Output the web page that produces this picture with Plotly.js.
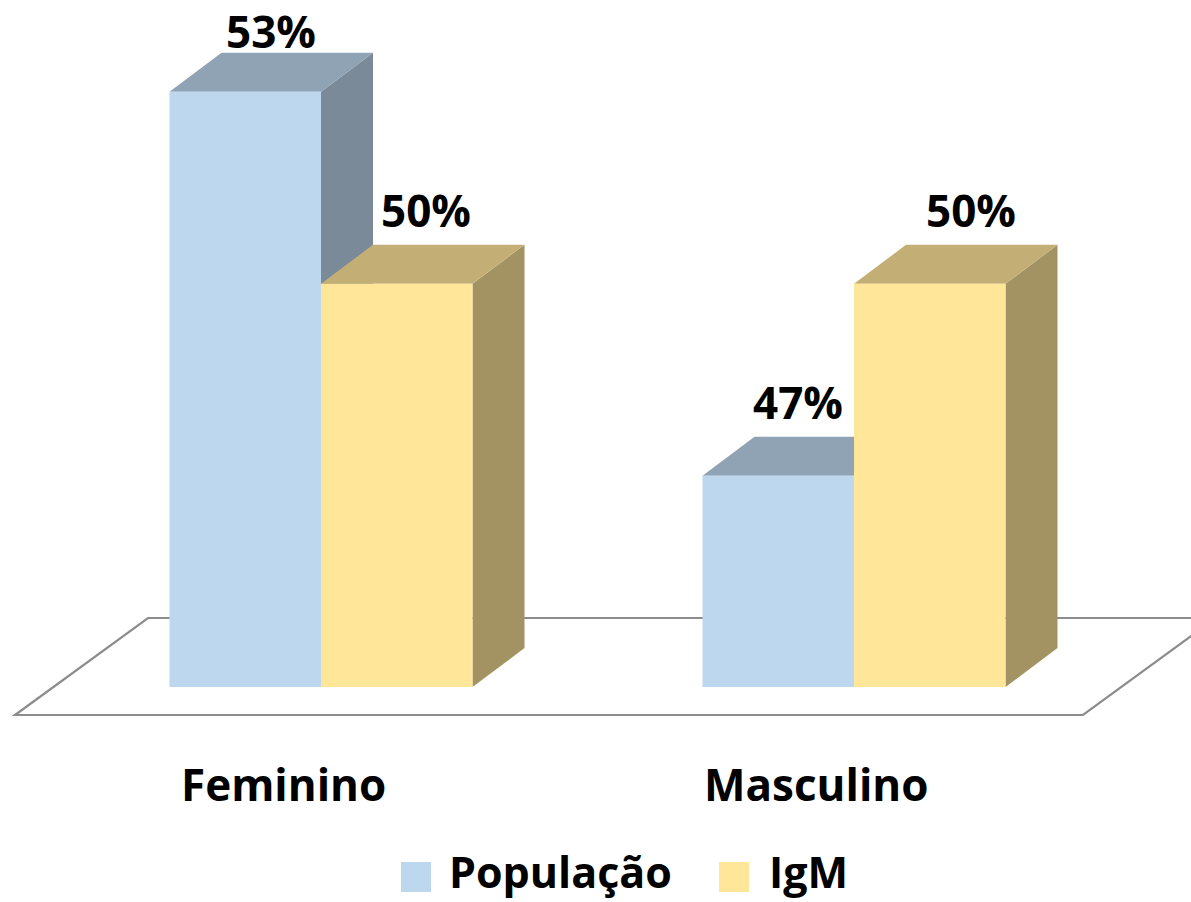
<!DOCTYPE html>
<html><head><meta charset="utf-8">
<script src="https://cdn.plot.ly/plotly-3.0.1.min.js"></script>
<style>html,body{margin:0;padding:0;background:#fff}</style>
</head><body><div id="chart" style="width:1191px;height:902px"></div>
<script>
// ---- data ----
const categories = ['Feminino', 'Masculino'];
const seriesNames = ['População', 'IgM'];
const populacao = [53, 47];
const igm = [50, 50];

// ---- styling / geometry ----
const W = 1191, H = 902;
const CAT_PX = 533, CAT0_PX = 321;      // pixel spacing of categories and centre of first
const BASE = 43.7, UNIT_PX = 64, BASE_PX = 687;
const barW = 151.5 / CAT_PX;
const dx = 52 / CAT_PX, dy = 39 / UNIT_PX;
const frontColors = ['#BDD7EE', '#FFE699'];
const topColors = ['#8FA3B5', '#C3AF75'];
const sideColors = ['#7A8A99', '#A39262'];
const FONT = {family: 'Open Sans, Noto Sans, sans-serif', size: 44, color: '#000', weight: 700};
const LEG_FONT = {family: 'Open Sans, Noto Sans, sans-serif', size: 43, color: '#000', weight: 700};
const labelShiftPx = [[0, 3], [-6, 15]];   // per category, per series

const xRange = [-CAT0_PX / CAT_PX, (W - CAT0_PX) / CAT_PX];
const yRange = [BASE - (H - BASE_PX) / UNIT_PX, BASE + BASE_PX / UNIT_PX];
const pxToV = py => BASE + (BASE_PX - py) / UNIT_PX;

const series = [populacao, igm];
const idx = categories.map((c, i) => i);

const traces = series.map((vals, s) => ({
  type: 'bar',
  name: seriesNames[s],
  x: idx,
  y: vals.map(v => v - BASE),
  base: BASE,
  offset: (s - 1) * barW,
  width: barW,
  marker: {color: frontColors[s], line: {width: 0}},
  hoverinfo: 'skip',
  showlegend: false
}));

const shapes = [];
// floor
const fy0 = BASE - 28 / UNIT_PX, fy1 = BASE + (BASE_PX - 618) / UNIT_PX;
const fxL = (15 - CAT0_PX) / CAT_PX, fxR = (1083 - CAT0_PX) / CAT_PX, fd = 133 / CAT_PX;
shapes.push({type: 'path', xref: 'x', yref: 'y', layer: 'below',
  path: `M${fxL},${fy0} L${fxR},${fy0} L${fxR + fd},${fy1} L${fxL + fd},${fy1} Z`,
  line: {color: '#8c8c8c', width: 2.2}, fillcolor: 'rgba(0,0,0,0)'});

const annotations = [];
const YCAP = pxToV(31);
idx.forEach(i => {
  series.forEach((vals, s) => {
    const v = vals[i];
    const x0 = i + (s - 1) * barW, x1 = x0 + barW;
    shapes.push({type: 'path', xref: 'x', yref: 'y', layer: 'below',
      path: `M${x1},${BASE} L${x1},${v} L${x1 + dx},${v + dy} L${x1 + dx},${BASE + dy} Z`,
      fillcolor: sideColors[s], line: {width: 0}});
    shapes.push({type: 'path', xref: 'x', yref: 'y', layer: 'below',
      path: `M${x0},${v} L${x1},${v} L${x1 + dx},${v + dy} L${x0 + dx},${v + dy} Z`,
      fillcolor: topColors[s], line: {width: 0}});
    annotations.push({xref: 'x', yref: 'y', x: x0 + barW / 2 + dx / 2,
      y: Math.min(v + dy + 35 / UNIT_PX, YCAP), xshift: labelShiftPx[i][s],
      text: v + '%', showarrow: false,
      xanchor: 'center', yanchor: 'middle', font: FONT});
  });
  annotations.push({xref: 'x', yref: 'y', x: i - 38 / CAT_PX, y: pxToV(784),
    text: categories[i], showarrow: false, xanchor: 'center', yanchor: 'middle', font: FONT});
});

// legend
const legendSw = [401, 719], legendTx = [447, 767];
seriesNames.forEach((n, s) => {
  shapes.push({type: 'rect', xref: 'paper', yref: 'paper',
    x0: legendSw[s] / W, x1: (legendSw[s] + 30) / W, y0: 1 - 892 / H, y1: 1 - 862 / H,
    fillcolor: frontColors[s], line: {width: 0}});
  annotations.push({xref: 'paper', yref: 'paper', x: legendTx[s] / W, y: 1 - 871 / H,
    text: n, showarrow: false, xanchor: 'left', yanchor: 'middle', font: LEG_FONT});
});

const layout = {
  width: W, height: H,
  margin: {l: 0, r: 0, t: 0, b: 0, pad: 0},
  paper_bgcolor: '#fff', plot_bgcolor: '#fff',
  xaxis: {range: xRange, visible: false, fixedrange: true},
  yaxis: {range: yRange, visible: false, fixedrange: true},
  barmode: 'overlay',
  showlegend: false,
  shapes, annotations
};
Plotly.newPlot('chart', traces, layout, {staticPlot: true, displayModeBar: false});
</script></body></html>
